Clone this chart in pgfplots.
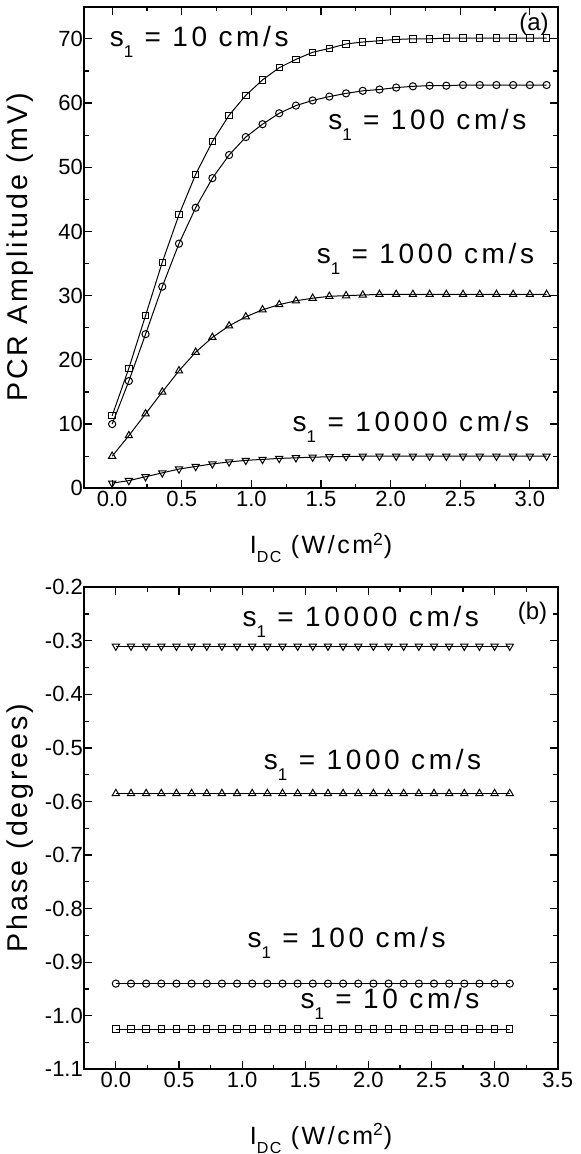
\documentclass[border=0pt]{standalone}
\usepackage{pgfplots}
\pgfplotsset{compat=1.18}
\usepackage{pgfplotstable}
\usepackage{fontspec}
\setmainfont{Liberation Sans}
\newfontfamily\labfont[LetterSpace=10]{Liberation Sans}
\newfontfamily\annfont[LetterSpace=13]{Liberation Sans}
\newcommand\lsub[1]{\raisebox{-5.5pt}{\fontsize{8.5}{8.5}\selectfont #1}}
\newcommand\xsub[1]{\raisebox{-4.5pt}{\fontsize{8}{8}\selectfont #1}}

\pgfplotstableread{
x a b c d
0.00 11.3 10.0 5.0 0.8
0.12 18.7 16.7 8.2 1.2
0.24 26.9 24.0 11.6 1.8
0.36 35.2 31.4 15.0 2.4
0.48 42.6 38.1 18.3 3.0
0.60 48.9 43.7 21.2 3.4
0.72 54.0 48.3 23.5 3.8
0.84 58.1 51.9 25.3 4.1
0.96 61.2 54.7 26.7 4.35
1.08 63.6 56.7 27.8 4.5
1.20 65.5 58.4 28.6 4.65
1.32 66.8 59.6 29.2 4.75
1.44 67.9 60.4 29.6 4.85
1.56 68.5 61.0 29.9 4.9
1.68 69.2 61.5 30.0 4.95
1.80 69.5 61.9 30.1 5.0
1.92 69.7 62.1 30.2 5.0
2.04 69.9 62.4 30.2 5.0
2.16 70.0 62.6 30.2 5.0
2.28 70.0 62.7 30.2 5.0
2.40 70.1 62.7 30.2 5.0
2.52 70.1 62.8 30.2 5.0
2.64 70.1 62.8 30.2 5.0
2.76 70.1 62.8 30.2 5.0
2.88 70.1 62.8 30.2 5.0
3.00 70.1 62.8 30.2 5.0
3.12 70.1 62.8 30.2 5.0
}\amp

\pgfplotstableread{
x a b c d
0.00 -1.025 -0.94 -0.585 -0.31
0.12 -1.025 -0.94 -0.585 -0.31
0.24 -1.025 -0.94 -0.585 -0.31
0.36 -1.025 -0.94 -0.585 -0.31
0.48 -1.025 -0.94 -0.585 -0.31
0.60 -1.025 -0.94 -0.585 -0.31
0.72 -1.025 -0.94 -0.585 -0.31
0.84 -1.025 -0.94 -0.585 -0.31
0.96 -1.025 -0.94 -0.585 -0.31
1.08 -1.025 -0.94 -0.585 -0.31
1.20 -1.025 -0.94 -0.585 -0.31
1.32 -1.025 -0.94 -0.585 -0.31
1.44 -1.025 -0.94 -0.585 -0.31
1.56 -1.025 -0.94 -0.585 -0.31
1.68 -1.025 -0.94 -0.585 -0.31
1.80 -1.025 -0.94 -0.585 -0.31
1.92 -1.025 -0.94 -0.585 -0.31
2.04 -1.025 -0.94 -0.585 -0.31
2.16 -1.025 -0.94 -0.585 -0.31
2.28 -1.025 -0.94 -0.585 -0.31
2.40 -1.025 -0.94 -0.585 -0.31
2.52 -1.025 -0.94 -0.585 -0.31
2.64 -1.025 -0.94 -0.585 -0.31
2.76 -1.025 -0.94 -0.585 -0.31
2.88 -1.025 -0.94 -0.585 -0.31
3.00 -1.025 -0.94 -0.585 -0.31
3.12 -1.025 -0.94 -0.585 -0.31
}\phase

\pgfplotsset{
  myaxis/.style={
    scale only axis, width=236.7pt,
    axis line style={line width=0.9pt},
    every tick/.style={black, line width=0.6pt},
    major tick length=4pt, minor tick length=2.3pt,
    tick align=inside,
    minor x tick num=1, minor y tick num=1,
    /pgf/number format/assume math mode=true,
    ticklabel style={font=\fontsize{11}{13}\selectfont},
    yticklabel style={xshift=2.8pt},
    xticklabel style={yshift=2pt},
    xlabel style={font=\labfont\fontsize{12.5}{15}\selectfont},
    ylabel style={font=\labfont\fontsize{14.3}{17}\selectfont, at={(axis description cs:-0.135,0.5)}, anchor=center},
  },
  sq/.style={black, line width=0.5pt, mark=square, mark size=1.6pt, mark options={fill=white, line width=0.5pt}},
  ci/.style={black, line width=0.5pt, mark=o, mark size=1.8pt, mark options={fill=white, line width=0.5pt}},
  tu/.style={black, line width=0.5pt, mark=triangle, mark size=2.1pt, mark options={fill=white, line width=0.5pt}},
  td/.style={black, line width=0.5pt, mark=triangle, mark size=2.1pt, mark options={fill=white, line width=0.5pt, rotate=180}},
}
\tikzset{ann/.style={anchor=base west, inner sep=0pt, font=\annfont\fontsize{14}{17}\selectfont}}

\begin{document}
\begin{tikzpicture}
\begin{axis}[myaxis, at={(0,0)}, anchor=north west,
  height=240.8pt,
  xmin=-0.2, xmax=3.2, ymin=0, ymax=75,
  xtick={0,0.5,1,1.5,2,2.5,3},
  ytick={0,10,20,30,40,50,60,70},
  xticklabel style={/pgf/number format/.cd, fixed, fixed zerofill, precision=1},
  xlabel={I\xsub{DC} (W/cm\textsuperscript{2})},
  ylabel={PCR Amplitude (mV)},
  xlabel style={at={(axis description cs:0.5,-0.124)}, anchor=center},
]
\addplot[sq] table[x=x,y=a]{\amp};
\addplot[ci] table[x=x,y=b]{\amp};
\addplot[tu] table[x=x,y=c]{\amp};
\addplot[td] table[x=x,y=d]{\amp};
\node[ann] at (axis cs:-0.02,68.85) {s\lsub{1} = 10 cm/s};
\node[ann] at (axis cs:1.55,55.86) {s\lsub{1} = 100 cm/s};
\node[ann] at (axis cs:1.467,35.08) {s\lsub{1} = 1000 cm/s};
\node[ann] at (axis cs:1.294,8.8) {s\lsub{1} = 10000 cm/s};
\node[font=\fontsize{12}{14}\selectfont] at (axis cs:3.03,72.2) {(a)};
\end{axis}

\begin{axis}[myaxis, at={(0,-290.3pt)}, anchor=north west,
  height=241pt,
  xmin=-0.25, xmax=3.5, ymin=-1.1, ymax=-0.2,
  xtick={0,0.5,1,1.5,2,2.5,3,3.5},
  ytick={-1.1,-1.0,-0.9,-0.8,-0.7,-0.6,-0.5,-0.4,-0.3,-0.2},
  xticklabel style={/pgf/number format/.cd, fixed, fixed zerofill, precision=1},
  yticklabel style={/pgf/number format/.cd, fixed, fixed zerofill, precision=1},
  xlabel={I\xsub{DC} (W/cm\textsuperscript{2})},
  ylabel={Phase (degrees)},
  xlabel style={at={(axis description cs:0.5,-0.143)}, anchor=center},
]
\addplot[sq] table[x=x,y=a]{\phase};
\addplot[ci] table[x=x,y=b]{\phase};
\addplot[tu] table[x=x,y=c]{\phase};
\addplot[td] table[x=x,y=d]{\phase};
\node[ann] at (axis cs:1.00,-0.2736) {s\lsub{1} = 10000 cm/s};
\node[ann] at (axis cs:1.17,-0.541) {s\lsub{1} = 1000 cm/s};
\node[ann] at (axis cs:1.04,-0.872) {s\lsub{1} = 100 cm/s};
\node[ann] at (axis cs:1.46,-0.987) {s\lsub{1} = 10 cm/s};
\node[font=\fontsize{12}{14}\selectfont] at (axis cs:3.30,-0.248) {(b)};
\end{axis}
\pgfresetboundingbox
\useasboundingbox (-42.15pt,3.35pt) rectangle (248.35pt,-573.65pt);
\end{tikzpicture}
\end{document}
